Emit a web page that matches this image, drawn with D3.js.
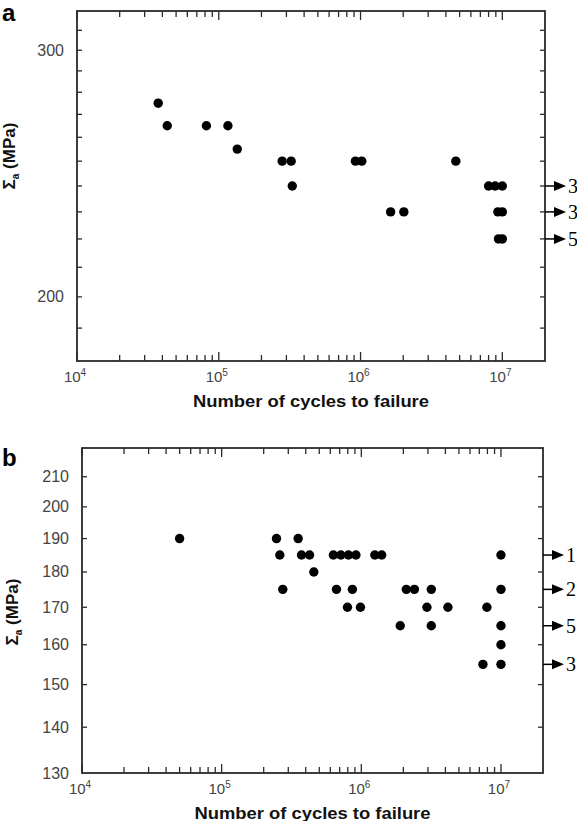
<!DOCTYPE html>
<html><head><meta charset="utf-8">
<script src="https://cdn.jsdelivr.net/npm/d3@7"></script>
<style>body{margin:0;background:#fff}svg{display:block}</style>
</head><body>
<svg id="c" width="577" height="821"></svg>
<script>
// ---- Panel a data ----
const aCycles = [3.74e4, 4.33e4, 8.18e4, 1.16e5, 1.35e5, 2.80e5, 3.24e5, 3.30e5, 0.92e6, 1.02e6, 4.7e6,
  8.0e6, 8.9e6, 1.0e7, 1.63e6, 2.02e6, 9.3e6, 1.0e7, 9.4e6, 1.0e7];
const aStress = [275, 265, 265, 265, 255, 250, 250, 240, 250, 250, 250,
  240, 240, 240, 230, 230, 230, 230, 220, 220];
const aRunoutStress = [240, 230, 220];
const aRunoutCount = ["3", "3", "5"];
const aYTickLabels = [200, 300];
const aYMinorTicks = [190, 200, 210, 220, 230, 240, 250, 260, 270, 280, 290, 300, 310];

// ---- Panel b data ----
const bCycles = [5.0e4, 2.47e5, 3.53e5,
  2.61e5, 3.73e5, 4.26e5, 6.31e5, 7.14e5, 8.09e5, 9.15e5, 1.25e6, 1.40e6, 1.0e7,
  4.57e5,
  2.74e5, 6.64e5, 8.63e5, 2.10e6, 2.40e6, 3.17e6, 1.0e7,
  7.96e5, 9.86e5, 2.95e6, 4.17e6, 7.93e6,
  1.90e6, 3.17e6, 1.0e7,
  1.0e7,
  7.43e6, 1.0e7];
const bStress = [190, 190, 190,
  185, 185, 185, 185, 185, 185, 185, 185, 185, 185,
  180,
  175, 175, 175, 175, 175, 175, 175,
  170, 170, 170, 170, 170,
  165, 165, 165,
  160,
  155, 155];
const bRunoutStress = [185, 175, 165, 155];
const bRunoutCount = ["1", "2", "5", "3"];
const bYTickLabels = [130, 140, 150, 160, 170, 180, 190, 200, 210];
const bYMinorTicks = [140, 150, 160, 170, 180, 190, 200, 210];

// ---- shared axis data ----
const xTickExps = [4, 5, 6, 7];
const xDomain = [1e4, 2e7];
const xTitle = "Number of cycles to failure";

const svg = d3.select("#c");
const AX = "#2a2a2a", LBL = "#444";
const SANS = "Liberation Sans, Arial, sans-serif";

function panel(o) {
  const g = svg.append("g");
  const x = d3.scaleLog().domain(xDomain).range([o.left, o.right]);
  const y = d3.scaleLog().domain(o.yDomain).range([o.bottom, o.top]);

  const xMinor = [];
  xTickExps.forEach(e => { for (let k = 2; k <= 9; k++) { const v = k * Math.pow(10, e); if (v < xDomain[1]) xMinor.push(v); } });
  const xMajor = xTickExps.map(e => Math.pow(10, e));

  const tk = g.append("g").attr("stroke", AX).attr("stroke-width", 1.3);
  xMinor.forEach(v => {
    tk.append("line").attr("x1", x(v)).attr("x2", x(v)).attr("y1", o.bottom).attr("y2", o.bottom - 6);
    tk.append("line").attr("x1", x(v)).attr("x2", x(v)).attr("y1", o.top).attr("y2", o.top + 6);
  });
  xMajor.forEach(v => {
    tk.append("line").attr("x1", x(v)).attr("x2", x(v)).attr("y1", o.bottom).attr("y2", o.bottom - 9);
    tk.append("line").attr("x1", x(v)).attr("x2", x(v)).attr("y1", o.top).attr("y2", o.top + 9);
  });
  o.yMinor.forEach(v => {
    tk.append("line").attr("x1", o.left).attr("x2", o.left + 5).attr("y1", y(v)).attr("y2", y(v));
    tk.append("line").attr("x1", o.right).attr("x2", o.right - 5).attr("y1", y(v)).attr("y2", y(v));
  });

  g.append("rect").attr("x", o.left).attr("y", o.top)
    .attr("width", o.right - o.left).attr("height", o.bottom - o.top)
    .attr("fill", "none").attr("stroke", AX).attr("stroke-width", 1.8);

  xMajor.forEach((v, i) => {
    const t = g.append("text").attr("x", x(v) - 2).attr("y", o.bottom + 21)
      .attr("text-anchor", "middle").attr("font-family", SANS)
      .attr("font-size", 15).attr("fill", LBL);
    t.append("tspan").text("10");
    t.append("tspan").attr("dy", -6).attr("font-size", 10).text(xTickExps[i]);
  });
  o.yLabels.forEach(v => {
    g.append("text").attr("x", o.left - 13).attr("y", y(v) + 5.5)
      .attr("text-anchor", "end").attr("font-family", SANS)
      .attr("font-size", 16).attr("fill", LBL).text(v);
  });

  g.append("text").attr("x", (o.left + o.right) / 2).attr("y", o.bottom + 46)
    .attr("text-anchor", "middle").attr("font-family", SANS)
    .attr("font-weight", "bold").attr("font-size", 16).attr("fill", "#111")
    .attr("textLength", 236).attr("lengthAdjust", "spacingAndGlyphs").text(xTitle);
  const yt = g.append("text").attr("transform", `translate(${o.yTitleX},${o.yTitleY}) rotate(-90)`)
    .attr("text-anchor", "middle").attr("font-family", SANS)
    .attr("font-weight", "bold").attr("font-size", 17).attr("fill", "#111");
  yt.append("tspan").text("Σ");
  yt.append("tspan").attr("dy", 4).attr("font-size", 10).text("a");
  yt.append("tspan").attr("dy", -4).text("  (MPa)");

  g.append("text").attr("x", 2).attr("y", o.letterY).attr("font-family", SANS)
    .attr("font-weight", "bold").attr("font-size", 24).attr("fill", "#000").text(o.letter);

  g.append("g").selectAll("circle").data(o.cycles).join("circle")
    .attr("cx", d => x(d)).attr("cy", (d, i) => y(o.stress[i])).attr("r", 4.7).attr("fill", "#000");

  o.runStress.forEach((v, i) => {
    const yy = y(v);
    g.append("line").attr("x1", o.right).attr("x2", o.right + 12).attr("y1", yy).attr("y2", yy)
      .attr("stroke", "#000").attr("stroke-width", 1.5);
    g.append("path").attr("d", `M${o.right + 9},${yy - 5}L${o.right + 21},${yy}L${o.right + 9},${yy + 5}Z`).attr("fill", "#000");
    g.append("text").attr("x", o.right + 23).attr("y", yy + 7)
      .attr("font-family", "Liberation Serif, Times New Roman, serif").attr("font-size", 20)
      .attr("fill", "#000").text(o.runCount[i]);
  });
}

panel({ left: 77, right: 545, top: 11, bottom: 361, yDomain: [180, 320],
  yMinor: aYMinorTicks, yLabels: aYTickLabels, cycles: aCycles, stress: aStress,
  runStress: aRunoutStress, runCount: aRunoutCount, letter: "a", letterY: 21,
  yTitleX: 15, yTitleY: 156 });
panel({ left: 82, right: 543, top: 448, bottom: 773, yDomain: [130, 220],
  yMinor: bYMinorTicks, yLabels: bYTickLabels, cycles: bCycles, stress: bStress,
  runStress: bRunoutStress, runCount: bRunoutCount, letter: "b", letterY: 466,
  yTitleX: 18, yTitleY: 612 });
</script>
</body></html>
